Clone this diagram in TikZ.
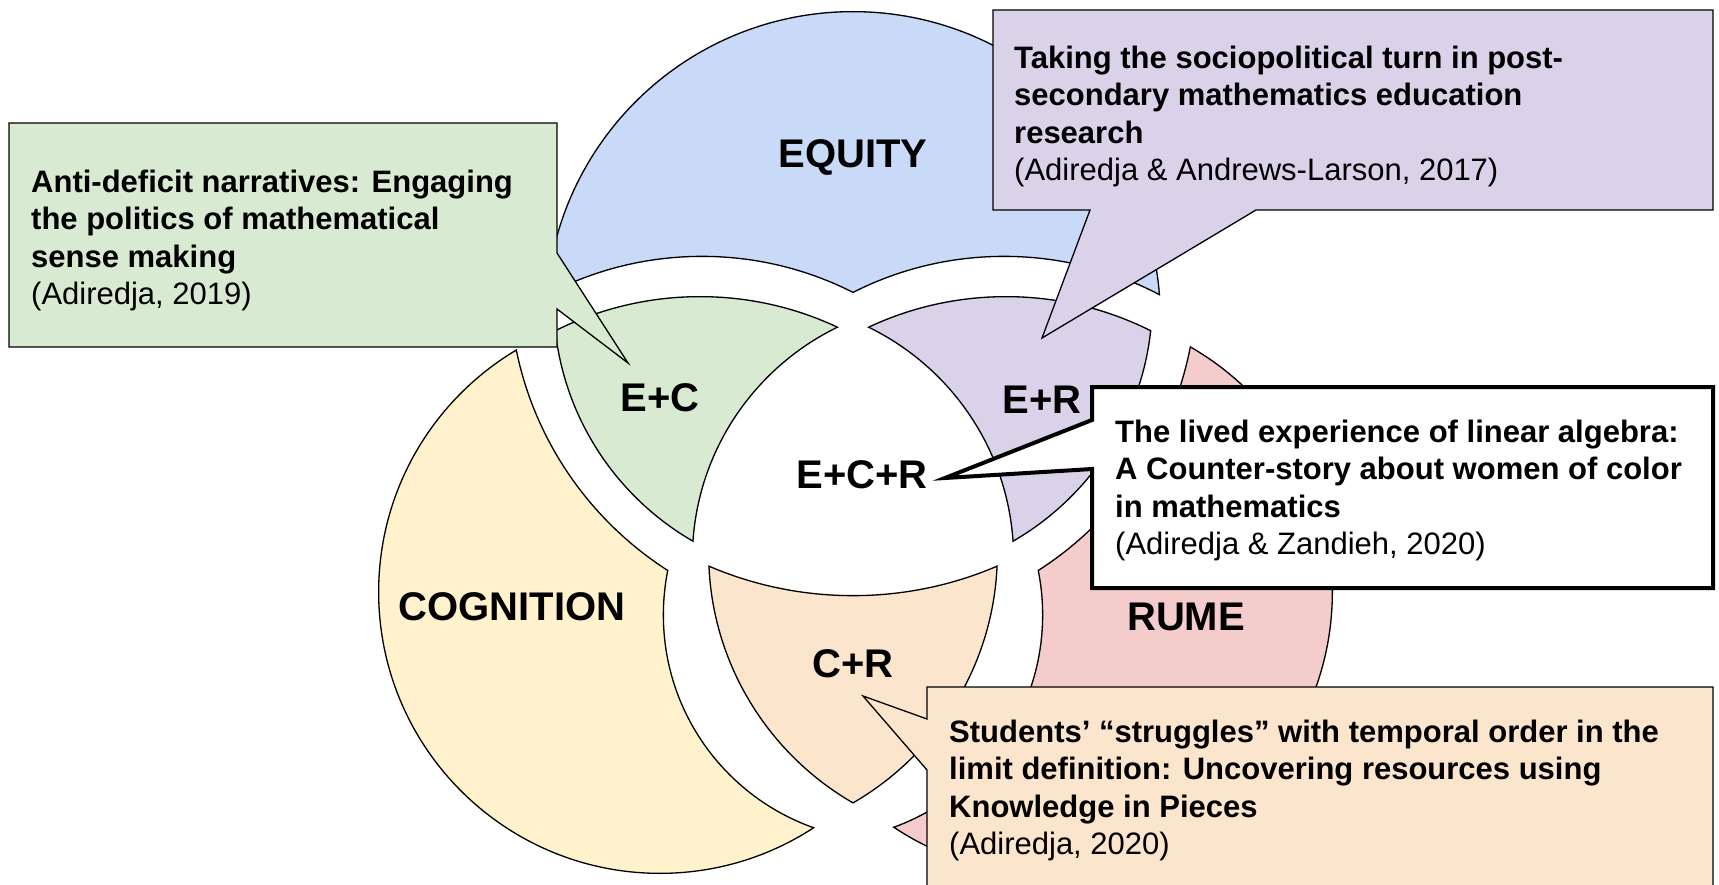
\documentclass[tikz,border=0pt]{standalone}
\usepackage{fontspec}
\setmainfont{Liberation Sans}
\definecolor{eqblue}{HTML}{C9DAF8}
\definecolor{cogyellow}{HTML}{FFF2CC}
\definecolor{rumepink}{HTML}{F4CCCC}
\definecolor{ecgreen}{HTML}{D9EAD3}
\definecolor{erpurple}{HTML}{D9D2E9}
\definecolor{crpeach}{HTML}{FCE5CD}
\newcommand\outside[3]{(-1000,-1000) -- (3000,-1000) -- (3000,2000) -- (-1000,2000) -- cycle ({#1+#3},#2) arc[start angle=360,end angle=0,radius=#3]}
\tikzset{
  rim/.style={draw=black,line width=2.6pt},
  callout/.style={draw=black,line width=1.3pt,line join=miter},
  note/.style={anchor=north west,inner sep=0pt,align=left,font=\fontsize{31}{37.5}\selectfont\bfseries},
  lbl/.style={anchor=base,inner sep=0pt,font=\fontsize{40}{48}\selectfont\bfseries}
}
\begin{document}
\begin{tikzpicture}[x=1pt,y=-1pt]
\useasboundingbox (0,0) rectangle (1719,885);
\clip (0,0) rectangle (1719,885);
\begin{scope}
  \clip (853,319) circle (308);
  \clip \outside{702}{590}{333};
  \clip \outside{1004}{590}{333};
  \fill[eqblue] (0,0) rectangle (1719,885);
  \draw[rim] (853,319) circle (308) (702,590) circle (333) (1004,590) circle (333);
\end{scope}
\begin{scope}
  \clip (660,592) circle (282);
  \clip \outside{853}{281}{343};
  \clip \outside{889}{615}{225};
  \fill[cogyellow] (0,0) rectangle (1719,885);
  \draw[rim] (660,592) circle (282) (853,281) circle (343) (889,615) circle (225);
\end{scope}
\begin{scope}
  \clip (1050,592) circle (283);
  \clip \outside{853}{281}{343};
  \clip \outside{817}{615}{225};
  \fill[rumepink] (0,0) rectangle (1719,885);
  \draw[rim] (1050,592) circle (283) (853,281) circle (343) (817,615) circle (225);
\end{scope}
\begin{scope}
  \clip (709,553) circle (289);
  \clip (997,553) circle (289);
  \clip \outside{853}{230}{365};
  \fill[crpeach] (0,0) rectangle (1719,885);
  \draw[rim] (709,553) circle (289) (997,553) circle (289) (853,230) circle (365);
\end{scope}
\begin{scope}
  \clip (832,300) circle (279);
  \clip (700,620) circle (324);
  \clip \outside{950}{559}{257};
  \fill[ecgreen] (0,0) rectangle (1719,885);
  \draw[rim] (832,300) circle (279) (700,620) circle (324) (950,559) circle (257);
\end{scope}
\begin{scope}
  \clip (874,300) circle (279);
  \clip (1006,620) circle (324);
  \clip \outside{756}{559}{257};
  \fill[erpurple] (0,0) rectangle (1719,885);
  \draw[rim] (874,300) circle (279) (1006,620) circle (324) (756,559) circle (257);
\end{scope}

\draw[callout,fill=ecgreen] (9,123) -- (557,123) -- (557,253) -- (628,363) -- (557,309) -- (557,347) -- (9,347) -- cycle;
\draw[callout,fill=erpurple] (993,10) -- (1713,10) -- (1713,210) -- (1256,210) -- (1042,338) -- (1090,210) -- (993,210) -- cycle;
\draw[callout,fill=white,line width=4pt] (1092,387) -- (1713,387) -- (1713,588) -- (1092,588) -- (1092,469) -- (945,478) -- (1092,420) -- cycle;
\draw[callout,fill=crpeach] (927,687) -- (1713,687) -- (1713,900) -- (927,900) -- (927,770) -- (863,696) -- (927,719) -- cycle;

\node[note] (ecnote) at (31,169.5) {Anti-deficit narratives: Engaging\\the politics of mathematical\\sense making\\\mdseries (Adiredja, 2019)};
\node[note] (ernote) at (1014,45.5) {Taking the sociopolitical turn in post-\\secondary mathematics education\\research\\\mdseries (Adiredja \& Andrews-Larson, 2017)};
\node[note] (ecrnote) at (1115,419.5) {The lived experience of linear algebra:\\A Counter-story about women of color\\in mathematics\\\mdseries (Adiredja \& Zandieh, 2020)};
\node[note] (crnote) at (949,719.5) {Students’ “struggles” with temporal order in the\\limit definition: Uncovering resources using\\Knowledge in Pieces\\\mdseries (Adiredja, 2020)};

\node[lbl] (equity) at (853,168) {EQUITY};
\node[lbl] (cognition) at (512,620) {COGNITION};
\node[lbl] (rume) at (1186,630) {RUME};
\node[lbl] (ec) at (660,411) {E+C};
\node[lbl] (er) at (1042,413) {E+R};
\node[lbl] (ecr) at (862,488) {E+C+R};
\node[lbl] (cr) at (853,677) {C+R};
\end{tikzpicture}
\end{document}
